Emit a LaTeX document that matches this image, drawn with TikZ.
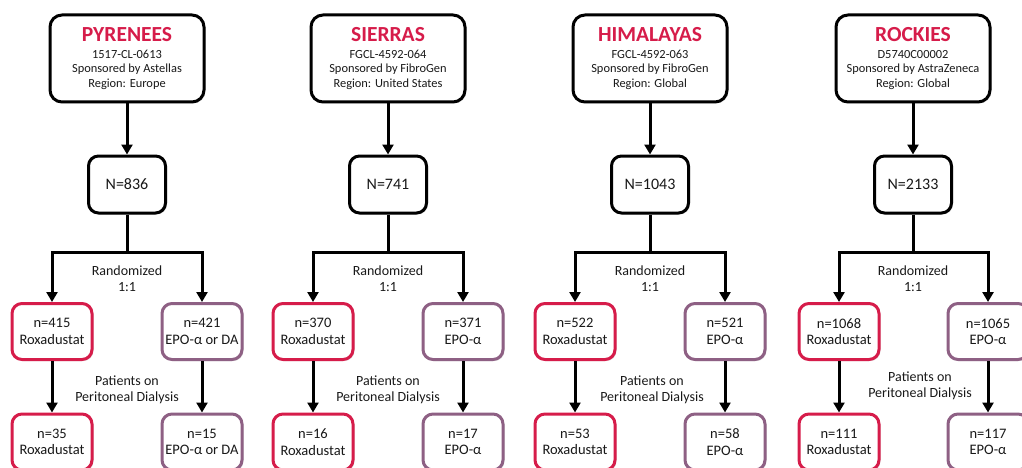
\documentclass[tikz,border=0pt]{standalone}
\usepackage{fontspec}
\setmainfont{Carlito}
\usetikzlibrary{arrows.meta,shadows}
\definecolor{roxred}{RGB}{214,28,74}
\definecolor{epopurple}{RGB}{142,96,132}
\definecolor{txt}{RGB}{25,25,25}
\tikzset{
 base/.style={draw, line width=3pt, fill=white, align=center, inner sep=0pt, text=txt,
   drop shadow={opacity=0.25,shadow xshift=1.5pt,shadow yshift=-1.5pt}},
 trialbox/.style={base, draw=black, rounded corners=12pt, minimum width=154pt, minimum height=87pt, font=\fontsize{12.4}{14.5}\selectfont},
 nbox/.style={base, draw=black, rounded corners=10pt, minimum width=77pt, minimum height=57pt, font=\fontsize{16}{20}\selectfont},
 roxbox/.style={base, draw=roxred, rounded corners=10pt, minimum width=80pt, minimum height=56pt, font=\fontsize{14.5}{16.5}\selectfont},
 epobox/.style={roxbox, draw=epopurple},
 conn/.style={line width=3pt, draw=black},
 arr/.style={conn, -{Triangle[width=11pt,length=10pt]}},
 lbl/.style={align=center, text=txt, inner sep=0pt, font=\fontsize{14}{16}\selectfont},
}
\newcommand{\trialtitle}[1]{{\fontsize{21.5}{24}\selectfont\bfseries\color{roxred}#1}\\[2.5pt]}
\begin{document}
\begin{tikzpicture}[x=1pt,y=-1pt]
\useasboundingbox (0,0) rectangle (1022,468);
\clip (0,0) rectangle (1022,468);
% ---------- PYRENEES ----------
\node[trialbox] (t1) at (127,58.5) {\trialtitle{PYRENEES}1517-CL-0613\\Sponsored by Astellas\\Region: Europe};
\node[nbox] (n1) at (127,184.5) {N=836};
\node[roxbox] (l1) at (52,331.5) {n=415\\Roxadustat};
\node[epobox] (r1) at (202,331.5) {n=421\\EPO-α or DA};
\node[roxbox] (bl1) at (52,442) {n=35\\Roxadustat};
\node[epobox] (br1) at (202,442) {n=15\\EPO-α or DA};
\coordinate (s1) at (127,252);
\node[lbl] (rand1) at (127,279) {Randomized\\1:1};
\node[lbl] (pd1) at (127,389.5) {Patients on\\Peritoneal Dialysis};
% ---------- SIERRAS ----------
\node[trialbox] (t2) at (388,58.5) {\trialtitle{SIERRAS}FGCL-4592-064\\Sponsored by FibroGen\\Region: United States};
\node[nbox] (n2) at (388,184.5) {N=741};
\node[roxbox] (l2) at (313,331.5) {n=370\\Roxadustat};
\node[epobox] (r2) at (463,331.5) {n=371\\EPO-α};
\node[roxbox] (bl2) at (313,442) {n=16\\Roxadustat};
\node[epobox] (br2) at (463,442) {n=17\\EPO-α};
\coordinate (s2) at (388,252);
\node[lbl] (rand2) at (388,279) {Randomized\\1:1};
\node[lbl] (pd2) at (388,389.5) {Patients on\\Peritoneal Dialysis};
% ---------- HIMALAYAS ----------
\node[trialbox] (t3) at (650,58.5) {\trialtitle{HIMALAYAS}FGCL-4592-063\\Sponsored by FibroGen\\Region: Global};
\node[nbox] (n3) at (650,184.5) {N=1043};
\node[roxbox] (l3) at (575,331.5) {n=522\\Roxadustat};
\node[epobox] (r3) at (725,331.5) {n=521\\EPO-α};
\node[roxbox] (bl3) at (575,442) {n=53\\Roxadustat};
\node[epobox] (br3) at (725,442) {n=58\\EPO-α};
\coordinate (s3) at (650,252);
\node[lbl] (rand3) at (650,279) {Randomized\\1:1};
\node[lbl] (pd3) at (652,389.5) {Patients on\\Peritoneal Dialysis};
% ---------- ROCKIES ----------
\node[trialbox] (t4) at (913,58.5) {\trialtitle{ROCKIES}D5740C00002\\Sponsored by AstraZeneca\\Region: Global};
\node[nbox] (n4) at (913,184.5) {N=2133};
\node[roxbox] (l4) at (839,331.5) {n=1068\\Roxadustat};
\node[epobox] (r4) at (988,331.5) {n=1065\\EPO-α};
\node[roxbox] (bl4) at (839,442) {n=111\\Roxadustat};
\node[epobox] (br4) at (988,442) {n=117\\EPO-α};
\coordinate (s4) at (913,252);
\node[lbl] (rand4) at (913,279) {Randomized\\1:1};
\node[lbl] (pd4) at (920,385.5) {Patients on\\Peritoneal Dialysis};
% ---------- connectors ----------
\foreach \i in {1,2,3,4}{
  \draw[arr] (t\i.south) -- (n\i.north);
  \draw[conn] (n\i.south) -- (s\i);
  \draw[arr] (s\i) -| (l\i.north);
  \draw[arr] (s\i) -| (r\i.north);
  \draw[arr] (l\i.south) -- (bl\i.north);
  \draw[arr] (r\i.south) -- (br\i.north);
}
\end{tikzpicture}
\end{document}
